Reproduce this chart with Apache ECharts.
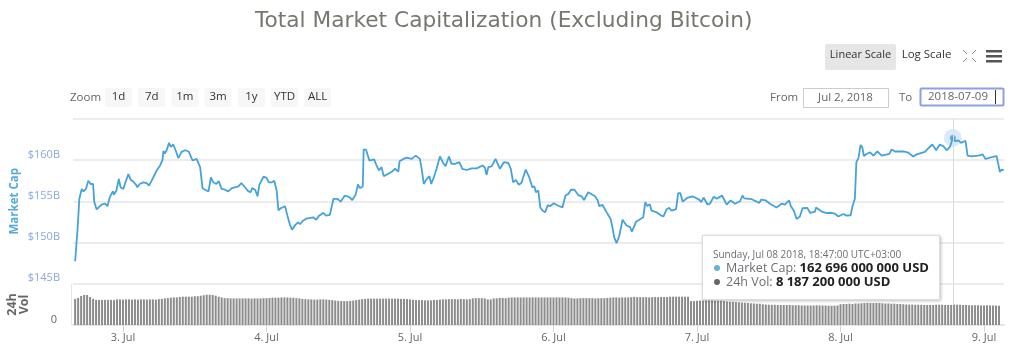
<!DOCTYPE html>
<html>
<head>
<meta charset="utf-8">
<style>
  html, body { margin: 0; padding: 0; background: #fff; }
  #chart { width: 1014px; height: 355px; }
</style>
<script src="https://cdn.jsdelivr.net/npm/echarts@6/dist/echarts.min.js"></script>
</head>
<body>
<div id="chart"></div>
<script>
// hours are counted from 3 Jul 2018 00:00 (UTC+03:00)
const capHours = [
  -8.0, -7.6, -7.3, -6.9, -6.6, -6.2, -5.8, -5.4, -5.0, -4.8, -4.4, -4.1, -3.6, -3.0, -2.6, -2.2, -1.7, -1.5, -1.1, -0.7,
  -0.4, 0.05, 0.5, 0.9, 1.3, 1.7, 2.2, 2.4, 2.8, 3.4, 3.96, 4.35, 4.8, 5.2, 5.6, 6.2, 6.6, 6.75, 7.0, 7.3,
  7.7, 8.0, 8.4, 8.8, 9.25, 9.8, 10.4, 11.0, 11.65, 12.3, 12.9, 13.3, 13.7, 14.3, 14.7, 15.1, 15.6, 16.0, 16.5, 17.05,
  17.6, 18.2, 18.7, 19.3, 19.8, 20.4, 20.96, 21.35, 21.6, 22.1, 22.5, 22.8, 23.1, 23.5, 24.0, 24.4, 24.9, 25.3, 25.7, 26.0,
  26.4, 27.1, 27.5, 27.9, 28.26, 28.8, 29.3, 29.6, 30.05, 30.7, 31.8, 32.3, 32.8, 33.5, 33.95, 34.6, 34.9, 35.2, 35.85, 36.4,
  37.1, 37.85, 38.35, 38.9, 39.3, 39.6, 40.1, 40.25, 40.65, 41.2, 41.5, 42.0, 42.4, 42.8, 43.25, 43.6, 44.4, 44.9, 45.5, 46.05,
  46.25, 46.9, 47.45, 48.3, 48.95, 49.65, 49.95, 50.3, 50.7, 51.25, 51.55, 52.0, 52.45, 53.0, 53.55, 53.95, 54.5, 54.95, 55.5, 56.25,
  56.75, 57.5, 58.3, 59.15, 60.15, 60.55, 60.8, 61.1, 61.65, 62.3, 63.05, 63.7, 64.45, 64.85, 65.25, 65.7, 66.2, 66.65, 67.35, 67.95,
  68.45, 68.8, 69.05, 69.45, 69.8, 70.2, 70.6, 71.05, 71.4, 72.05, 72.8, 73.5, 74.0, 74.5, 74.9, 75.5, 76.15, 76.7, 77.1, 77.8,
  78.1, 78.95, 79.4, 79.65, 80.2, 80.9, 81.55, 81.9, 82.15, 82.55, 83.0, 83.55, 84.2, 84.8, 85.1, 85.8, 86.35, 87.0, 87.35, 87.7,
  88.1, 88.4, 89.25, 90.05, 90.4, 90.9, 91.35, 91.75, 92.5, 92.85, 93.2, 93.6, 94.35, 95.25, 96.35, 96.7, 97.1, 97.75, 98.15, 98.8,
  99.3, 99.75, 100.2, 100.95, 101.6, 102.35, 103.2, 103.6, 103.9, 105.15, 106.4, 106.75, 107.5, 108.2, 109.3, 110.15, 110.7, 111.4, 111.7, 112.2,
  112.65, 113.2, 113.65, 114.45, 114.9, 115.75, 115.9, 116.85, 117.7, 118.5, 119.05, 119.65, 120.45, 121.0, 121.7, 122.0, 122.4, 122.65, 123.0, 123.35,
  123.65, 123.9, 124.35, 124.95, 125.5, 126.15, 126.9, 128.15, 128.55, 129.1, 130.5, 131.35, 132.15, 132.75, 134.1, 134.7, 135.35, 136.0, 136.6, 137.2,
  137.75, 138.3, 138.78, 139.2, 139.7, 140.15, 140.9, 141.25, 141.9, 143.05, 143.75, 144.25, 145.25, 146.1, 146.65, 146.95, 147.3
];
const capValues = [
  147.7, 151.6, 155.3, 156.5, 156.2, 156.5, 157.5, 157.1, 157.1, 154.9, 154.0, 154.1, 154.6, 154.7, 154.4, 155.5, 156.2, 155.8, 156.3, 157.7,
  156.7, 156.5, 157.5, 158.3, 157.6, 157.4, 157.0, 156.7, 157.1, 157.3, 157.2, 156.9, 157.5, 158.1, 158.7, 159.35, 160.0, 161.1, 160.8, 161.2,
  162.1, 161.6, 161.9, 161.2, 160.25, 161.0, 161.2, 161.05, 159.95, 160.15, 159.15, 156.6, 156.4, 156.2, 157.9, 157.3, 157.1, 157.45, 156.5, 156.4,
  156.2, 156.6, 156.7, 156.8, 157.2, 156.7, 156.2, 156.1, 156.6, 156.4, 155.6, 157.0, 157.1, 158.0, 157.85, 157.3, 157.3, 157.5, 156.3, 153.9,
  154.15, 154.4, 153.25, 152.2, 151.55, 152.1, 152.45, 152.2, 152.6, 152.9, 153.05, 152.75, 153.25, 153.6, 153.25, 153.35, 153.55, 155.3, 155.3, 154.95,
  155.7, 155.5, 155.15, 155.8, 157.05, 156.6, 156.8, 161.3, 161.25, 159.95, 159.85, 160.1, 159.35, 158.75, 159.15, 158.05, 158.35, 158.55, 158.95, 158.6,
  159.85, 160.15, 160.3, 160.15, 160.55, 160.15, 158.95, 157.1, 157.6, 158.05, 157.1, 157.95, 158.95, 160.45, 159.65, 159.25, 160.45, 159.55, 159.55, 159.75,
  158.95, 158.8, 159.0, 159.0, 159.35, 159.05, 158.2, 159.15, 159.25, 160.15, 158.95, 159.75, 159.65, 158.95, 157.3, 157.6, 157.0, 157.25, 158.85, 157.9,
  156.7, 156.8, 156.1, 156.3, 154.25, 153.85, 153.65, 154.55, 154.4, 154.75, 154.45, 154.25, 155.7, 155.9, 156.4, 156.4, 155.75, 155.6, 155.15, 156.1,
  156.1, 155.6, 155.1, 154.4, 154.55, 153.65, 152.85, 151.65, 150.6, 149.9, 150.8, 152.75, 152.05, 151.85, 151.3, 152.5, 152.75, 153.05, 154.9, 154.4,
  154.65, 153.85, 153.65, 153.25, 153.15, 154.0, 154.2, 153.85, 154.05, 156.0, 156.0, 154.95, 155.4, 155.6, 155.2, 154.9, 155.45, 154.6, 154.7, 155.55,
  155.3, 155.5, 155.7, 154.6, 155.1, 154.7, 155.0, 155.7, 155.35, 155.25, 154.8, 155.2, 155.1, 154.7, 154.25, 154.7, 154.6, 155.1, 154.4, 153.85,
  152.85, 153.15, 154.15, 154.2, 153.6, 153.75, 154.25, 153.75, 153.55, 153.6, 153.5, 153.15, 153.45, 153.25, 153.3, 154.4, 155.3, 159.75, 160.25, 161.85,
  161.55, 160.5, 160.75, 160.95, 160.55, 161.05, 160.55, 160.75, 161.3, 161.05, 161.05, 160.9, 160.45, 160.7, 161.0, 161.45, 161.9, 161.2, 161.9, 161.7,
  161.2, 161.6, 162.696, 162.3, 162.4, 162.1, 162.35, 160.55, 160.45, 160.55, 160.7, 160.15, 160.35, 160.5, 158.55, 158.85, 158.75
];
// one bar every half hour, from volStartHour
const volStartHour = -8;
const volStepHours = 0.5;
const volValues = [
  10.7, 11.1, 11.9, 12.3, 12.3, 11.5, 10.7, 10.3, 10.3, 10.3,
  10.3, 10.3, 10.3, 10.2, 10.5, 10.5, 10.4, 10.5, 10.5, 10.4,
  10.5, 10.4, 10.5, 10.5, 10.4, 10.5, 10.5, 10.4, 10.6, 10.7,
  10.9, 11.0, 11.2, 11.3, 11.3, 11.5, 11.6, 11.6, 11.6, 11.6,
  11.8, 11.8, 12.0, 12.2, 12.4, 12.4, 12.3, 12.0, 11.6, 11.3,
  11.0, 11.0, 10.9, 10.9, 10.9, 10.9, 10.9, 10.9, 10.9, 10.8,
  10.9, 10.9, 10.9, 11.0, 11.0, 11.1, 11.2, 11.2, 11.2, 11.3,
  11.3, 11.3, 11.2, 11.2, 11.0, 10.9, 10.7, 10.6, 10.5, 10.5,
  10.4, 10.4, 10.5, 10.5, 10.4, 10.3, 10.2, 10.0, 9.9, 9.8,
  9.8, 9.8, 9.9, 10.0, 10.2, 10.4, 10.6, 10.7, 10.8, 10.8,
  10.8, 10.8, 10.8, 10.8, 10.8, 10.8, 10.8, 10.8, 10.8, 10.7,
  10.7, 10.6, 10.5, 10.3, 10.2, 10.2, 10.2, 10.1, 10.1, 10.1,
  10.3, 10.3, 10.4, 10.5, 10.5, 10.6, 10.6, 10.6, 10.5, 10.7,
  10.6, 10.5, 10.6, 10.9, 11.0, 11.0, 11.0, 10.9, 10.5, 10.5,
  10.9, 10.9, 11.1, 11.1, 11.0, 11.2, 11.3, 11.3, 11.3, 11.3,
  11.3, 11.3, 11.3, 11.3, 11.3, 11.3, 11.3, 11.3, 11.3, 11.3,
  11.3, 11.3, 11.3, 11.3, 11.3, 11.2, 11.0, 10.9, 10.9, 11.0,
  11.0, 11.0, 11.0, 11.0, 10.9, 11.0, 11.0, 11.0, 11.1, 11.2,
  11.3, 11.3, 11.2, 11.3, 11.3, 11.3, 11.4, 11.5, 11.4, 11.4,
  11.4, 11.4, 11.3, 11.4, 11.5, 11.4, 11.5, 11.5, 11.5, 11.6,
  11.6, 11.6, 11.6, 11.6, 11.6, 11.6, 9.8, 9.8, 9.9, 10.0,
  10.0, 10.0, 10.0, 10.0, 9.9, 9.9, 9.9, 9.8, 9.6, 9.5,
  9.5, 9.4, 9.3, 9.2, 9.1, 9.0, 8.9, 8.8, 8.7, 8.7,
  8.5, 8.4, 8.3, 8.3, 8.3, 8.2, 8.2, 8.2, 8.2, 8.2,
  8.1, 8.1, 8.1, 8.0, 8.0, 8.0, 8.0, 8.0, 8.1, 8.0,
  8.0, 8.0, 7.9, 7.9, 7.9, 8.0, 8.5, 8.6, 8.6, 8.7,
  8.6, 8.8, 8.8, 8.9, 9.0, 9.1, 9.0, 9.0, 9.0, 9.0,
  8.9, 8.8, 8.8, 8.7, 8.7, 8.6, 8.6, 8.5, 8.4, 8.4,
  8.4, 8.3, 8.3, 8.3, 8.2, 8.2, 8.2, 8.2, 8.3, 8.3,
  8.3, 8.2, 8.2, 8.2, 8.4, 8.3, 8.3, 8.2, 8.2, 8.1,
  8.1, 8.1, 8.1, 8.0, 8.0, 8.1, 8.0, 8.0, 8.0, 7.9
];
const dayHours = [0, 24, 48, 72, 96, 120, 144];
const dayLabels = ["3. Jul", "4. Jul", "5. Jul", "6. Jul", "7. Jul", "8. Jul", "9. Jul"];
const capTicks = [145, 150, 155, 160];
const zoomButtons = ["1d", "7d", "1m", "3m", "1y", "YTD", "ALL"];

const hoverHour = 138.78;
const hoverCap = 162.696;
const hoverVol = 8.1872;
const hoverDate = "Sunday, Jul 08 2018, 18:47:00 UTC+03:00";
const hoverCapText = "162 696 000 000 USD";
const hoverVolText = "8 187 200 000 USD";

const FONT = '"Open Sans", sans-serif';
const BLUE = "#45a2da";
const GRID_LINE = "#e6e6e6";

function label(x, y, text, size, fill, align) {
  return {
    type: "text",
    style: {
      x, y, text, fill,
      font: `${size}px ${FONT}`,
      textAlign: align || "left",
      textVerticalAlign: "middle",
    },
  };
}

function box(x, y, width, height, fill, stroke, r, lineWidth) {
  return {
    type: "rect",
    shape: { x, y, width, height, r: r || 0 },
    style: { fill, stroke: stroke || null, lineWidth: lineWidth || 1 },
  };
}

function stroke(x1, y1, x2, y2, color, lineWidth) {
  return {
    type: "line",
    shape: { x1, y1, x2, y2 },
    style: { stroke: color, lineWidth },
  };
}

const toolbar = [
  box(825, 44, 71, 26, "#e6e6e6", null, 2),
  label(860.5, 55, "Linear Scale", 11, "#333", "center"),
  label(926.5, 55, "Log Scale", 11.5, "#333", "center"),
  // fullscreen corners
  stroke(963, 50, 967, 54, "#888", 1),
  stroke(976, 50, 972, 54, "#888", 1),
  stroke(963, 62, 967, 58, "#888", 1),
  stroke(976, 62, 972, 58, "#888", 1),
  box(986, 50, 16, 2.5, "#555"),
  box(986, 55, 16, 2.5, "#555"),
  box(986, 60, 16, 2.5, "#555"),
  label(70, 98, "Zoom", 11.5, "#666"),
  label(770, 97.5, "From", 11.5, "#666"),
  box(803.5, 88.5, 85, 19, "#fff", "#ccc"),
  label(845.5, 97.5, "Jul 2, 2018", 11.5, "#666", "center"),
  label(899, 97.5, "To", 11.5, "#666"),
  box(920.5, 88.5, 83, 17, "#fff", "#8f9fe0", 1, 2),
  label(928, 96.5, "2018-07-09", 11.5, "#666"),
  stroke(995.5, 90, 995.5, 104, "#333", 1),
];
zoomButtons.forEach((name, i) => {
  const x = 105 + i * 33.2;
  toolbar.push(box(x, 88, 27, 19, "#f7f7f7", null, 2));
  toolbar.push(label(x + 13.5, 97, name, 11.5, "#333", "center"));
});

const tipLine = (top, html) =>
  `<div style="position:absolute;left:10px;top:${top}px;white-space:nowrap;line-height:14px;">${html}</div>`;
const tipDot = (color) =>
  `<span style="display:inline-block;width:6px;height:6px;border-radius:3px;background:${color};margin:0 6px 1px 1px;"></span>`;

const chart = echarts.init(document.getElementById("chart"), null, { renderer: "canvas" });

chart.setOption({
  animation: false,
  backgroundColor: "#fff",
  textStyle: { fontFamily: FONT },
  title: {
    text: "Total Market Capitalization (Excluding Bitcoin)",
    left: 250,
    top: 5,
    textStyle: { color: "#77776f", fontSize: 21.7, fontWeight: "normal", fontFamily: '"DejaVu Sans", sans-serif' },
  },
  graphic: toolbar,
  grid: [
    { left: 73, right: 10, top: 119, height: 164.5, outerBoundsMode: "none" },
    { left: 73, right: 10, top: 284, height: 41, outerBoundsMode: "none" },
  ],
  xAxis: [
    {
      gridIndex: 0,
      type: "value",
      min: -8.36,
      max: 147.34,
      axisLine: { show: false },
      axisTick: { show: false },
      axisLabel: { show: false },
      splitLine: { show: false },
    },
    {
      gridIndex: 1,
      type: "value",
      min: -8.36,
      max: 147.34,
      axisLine: { onZero: false, lineStyle: { color: GRID_LINE, width: 2 } },
      axisTick: { length: 7, lineStyle: { color: "#ccd6eb" }, customValues: dayHours },
      axisLabel: {
        color: "#666",
        fontSize: 11,
        margin: 7,
        customValues: dayHours,
        formatter: (v) => dayLabels[dayHours.indexOf(v)],
      },
      splitLine: { show: false },
    },
  ],
  yAxis: [
    {
      gridIndex: 0,
      type: "value",
      min: 145,
      max: 165,
      interval: 5,
      name: "Market Cap",
      nameLocation: "middle",
      nameGap: 52,
      nameMoveOverlap: false,
      nameRotate: 90,
      nameTextStyle: { color: "#55a9dc", fontSize: 11.5, fontWeight: "bold" },
      axisLine: { show: false, onZero: false },
      axisTick: { show: false },
      axisLabel: {
        color: "#8aa8e0",
        fontSize: 11,
        margin: 13,
        verticalAlign: "bottom",
        formatter: (v) => (capTicks.includes(v) ? `$${v}B` : ""),
      },
      splitLine: { lineStyle: { color: GRID_LINE, width: 1.5 } },
    },
    {
      gridIndex: 1,
      type: "value",
      min: 0,
      max: 16.8,
      interval: 16.8,
      name: "24h\nVol",
      nameLocation: "middle",
      nameGap: 41,
      nameMoveOverlap: false,
      nameRotate: 90,
      nameTextStyle: { color: "#666", fontSize: 12.5, fontWeight: "bold", lineHeight: 12 },
      offset: 2,
      axisLine: { show: true, onZero: false, lineStyle: { color: GRID_LINE } },
      axisTick: { show: false },
      axisLabel: {
        color: "#666",
        fontSize: 11,
        margin: 14,
        verticalAlign: "bottom",
        formatter: (v) => (v === 0 ? "0" : ""),
      },
      splitLine: { show: false },
    },
  ],
  tooltip: {
    trigger: "item",
    triggerOn: "none",
    alwaysShowContent: true,
    transitionDuration: 0,
    position: [702, 235],
    padding: 0,
    borderWidth: 0,
    backgroundColor: "transparent",
    extraCssText: "box-shadow:none;",
    formatter: () =>
      `<div style="position:relative;box-sizing:border-box;width:238px;height:65px;background:#fff;border:1px solid #ddd;box-shadow:1px 1px 3px rgba(0,0,0,.25);font-family:${FONT};color:#333;">` +
      tipLine(10, `<span style="font-size:10px;">${hoverDate}</span>`) +
      tipLine(24, `<span style="font-size:12.5px;">${tipDot("#5db4dc")}Market Cap: <b style="font-size:13px;color:#222;">${hoverCapText}</b></span>`) +
      tipLine(38, `<span style="font-size:12.5px;">${tipDot("#666")}24h Vol: <b style="font-size:13px;color:#222;">${hoverVolText}</b></span>`) +
      `</div>`,
  },
  series: [
    {
      name: "Market Cap",
      type: "line",
      xAxisIndex: 0,
      yAxisIndex: 0,
      data: capHours.map((h, i) => [h, capValues[i]]),
      showSymbol: false,
      lineStyle: { color: BLUE, width: 1.8 },
      itemStyle: { color: BLUE },
      markLine: {
        silent: true,
        symbol: "none",
        label: { show: false },
        lineStyle: { color: "#dcdcdc", width: 1, type: "solid" },
        data: [[{ coord: [hoverHour, 145] }, { coord: [hoverHour, 165] }]],
      },
    },
    {
      name: "24h Vol",
      type: "bar",
      xAxisIndex: 1,
      yAxisIndex: 1,
      barWidth: 2,
      data: volValues.map((v, i) => [volStartHour + i * volStepHours, v]),
      itemStyle: { color: "#8c8c8c" },
      markLine: {
        silent: true,
        symbol: "none",
        label: { show: false },
        lineStyle: { color: "#dcdcdc", width: 1, type: "solid" },
        data: [[{ coord: [hoverHour, hoverVol] }, { coord: [hoverHour, 16.8] }]],
      },
    },
    {
      name: "halo",
      type: "scatter",
      xAxisIndex: 0,
      yAxisIndex: 0,
      symbolSize: 18,
      silent: true,
      data: [[hoverHour, hoverCap]],
      itemStyle: { color: "rgba(124,181,236,0.35)" },
      tooltip: { show: false },
    },
    {
      name: "hover",
      type: "scatter",
      xAxisIndex: 0,
      yAxisIndex: 0,
      symbolSize: 6,
      data: [[hoverHour, hoverCap]],
      itemStyle: { color: "#3fa5c8" },
    },
  ],
});

chart.dispatchAction({ type: "showTip", seriesIndex: 3, dataIndex: 0 });
</script>
</body>
</html>
